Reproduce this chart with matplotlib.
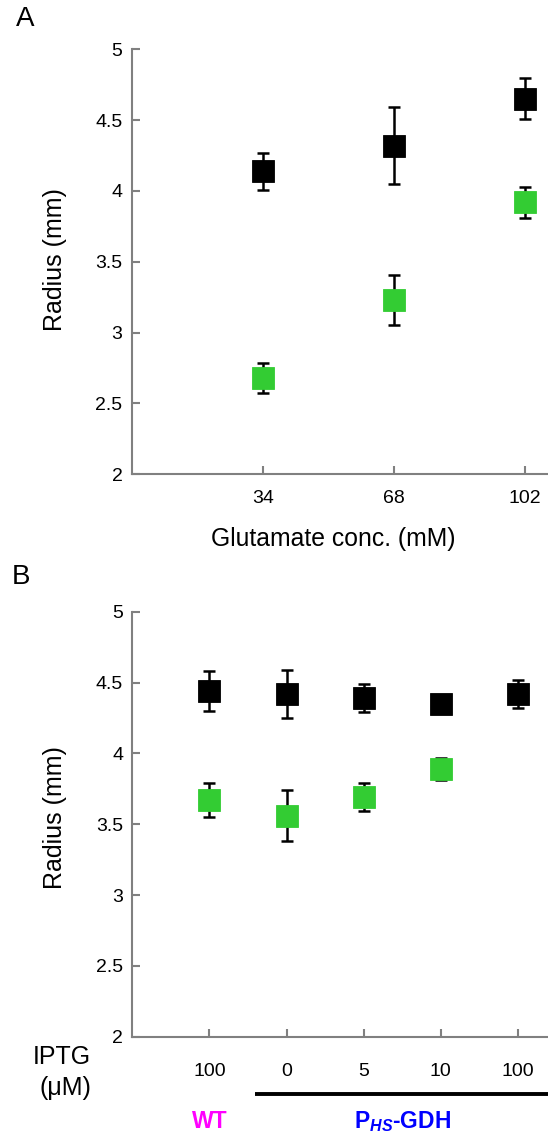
import matplotlib
matplotlib.use('Agg')
import matplotlib.pyplot as plt
import matplotlib.transforms as mtransforms

plt.rcParams['font.family'] = ['Liberation Sans', 'DejaVu Sans']
plt.rcParams['mathtext.fontset'] = 'custom'
plt.rcParams['mathtext.rm'] = 'Liberation Sans'
plt.rcParams['mathtext.it'] = 'Liberation Sans:italic'
plt.rcParams['mathtext.bf'] = 'Liberation Sans:bold'
plt.rcParams['mathtext.bfit'] = 'Liberation Sans:italic:bold'

# Panel A: radius vs glutamate concentration
glut_conc = [34, 68, 102]
a_black = [4.14, 4.32, 4.65]
a_black_err = [0.13, 0.27, 0.145]
a_green = [2.68, 3.23, 3.92]
a_green_err = [0.105, 0.175, 0.11]

# Panel B: radius vs IPTG (WT 100, then P_HS-GDH 0/5/10/100)
iptg_pos = [1, 2, 3, 4, 5]
iptg_labels = ['100', '0', '5', '10', '100']
b_black = [4.44, 4.42, 4.39, 4.35, 4.42]
b_black_err = [0.14, 0.17, 0.10, 0.03, 0.10]
b_green_pos = [1, 2, 3, 4]
b_green = [3.67, 3.56, 3.69, 3.89]
b_green_err = [0.12, 0.18, 0.10, 0.08]

yticks = [2, 2.5, 3, 3.5, 4, 4.5, 5]
ytick_labels = ['2', '2.5', '3', '3.5', '4', '4.5', '5']

GREEN = '#33cc33'
GRAY = '#808080'
W, H = 548, 1141


def style_axes(ax):
    for s in ['top', 'right']:
        ax.spines[s].set_visible(False)
    for s in ['left', 'bottom']:
        ax.spines[s].set_color(GRAY)
        ax.spines[s].set_linewidth(1.5)
    ax.set_ylim(2, 5)
    ax.set_yticks(yticks)
    ax.set_yticklabels(ytick_labels)
    ax.tick_params(direction='in', length=5.5, width=1.5, color=GRAY,
                   labelsize=14)
    ax.tick_params(axis='y', pad=6.6)


def draw_points(ax, x, y, err, color):
    ax.errorbar(x, y, yerr=err, fmt='none', ecolor='black',
                elinewidth=1.8, capsize=4.4, capthick=1.8, zorder=2,
                clip_on=False)
    ax.plot(x, y, 's', color=color, ms=15.8, mec=color, mew=0.6,
            zorder=3, clip_on=False, linestyle='none')


fig = plt.figure(figsize=(W / 100, H / 100), dpi=100)

# ---- panel A ----
axA = fig.add_axes([131.7 / W, 1 - 474.3 / H, 1 - 131.7 / W, 425 / H])
style_axes(axA)
axA.set_xlim(0, 108)
axA.set_xticks(glut_conc)
axA.set_xticklabels([str(v) for v in glut_conc])
axA.tick_params(axis='x', pad=11.2)
draw_points(axA, glut_conc, a_black, a_black_err, 'black')
draw_points(axA, glut_conc, a_green, a_green_err, GREEN)

fig.text(25 / W, 1 - 19.3 / H, 'A', fontsize=20, ha='center', va='center')
fig.text(55 / W, 1 - 259.6 / H, 'Radius (mm)', fontsize=18, rotation=90,
         ha='center', va='center')
fig.text(333 / W, 1 - 539 / H, 'Glutamate conc. (mM)', fontsize=17.8,
         ha='center', va='center')

# ---- panel B ----
axB = fig.add_axes([132.3 / W, 1 - 1036.7 / H, 1 - 132.3 / W, 425 / H])
style_axes(axB)
axB.set_xlim(0, 5.39)
axB.set_xticks(iptg_pos)
axB.set_xticklabels(iptg_labels)
axB.tick_params(axis='x', pad=18.6)
draw_points(axB, iptg_pos, b_black, b_black_err, 'black')
draw_points(axB, b_green_pos, b_green, b_green_err, GREEN)

fig.text(21.3 / W, 1 - 577 / H, 'B', fontsize=20, ha='center', va='center')
fig.text(55 / W, 1 - 818 / H, 'Radius (mm)', fontsize=18, rotation=90,
         ha='center', va='center')
fig.text(61.7 / W, 1 - 1056.6 / H, 'IPTG', fontsize=18,
         ha='center', va='center')
fig.text(65.3 / W, 1 - 1088 / H, '(\u03bcM)', fontsize=18,
         ha='center', va='center')

trans = mtransforms.blended_transform_factory(axB.transData, axB.transAxes)
axB.plot([1.59, 5.39], [-0.135, -0.135], color='black', lw=2.8,
         transform=trans, clip_on=False, solid_capstyle='butt')
axB.text(1, -0.2, 'WT', color='#ff00ff', fontsize=16.5, fontweight='bold',
         ha='center', va='center', transform=trans)
axB.text(3.5, -0.2, r'P$_{\mathbfit{HS}}$-GDH', color='#0000ff',
         fontsize=16.5, fontweight='bold', ha='center', va='center',
         transform=trans)

fig.savefig('out.png', dpi=100)
